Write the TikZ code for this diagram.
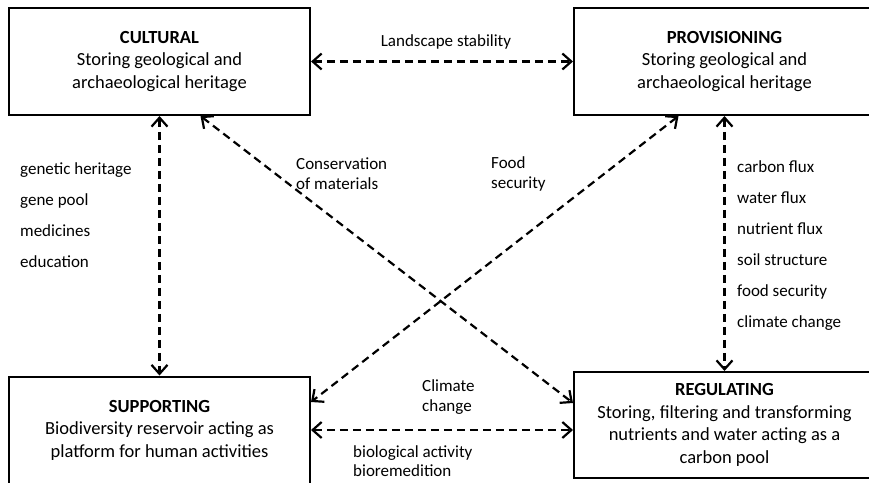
\documentclass[tikz,border=0pt]{standalone}
\usepackage{fontspec}
\setmainfont{Carlito}
\usetikzlibrary{arrows.meta, positioning, calc}

\begin{document}
\begin{tikzpicture}[
      x=1pt, y=-1pt,
      box/.style  = {draw, line width=2pt, align=center, inner sep=0pt,
                     minimum width=301pt, minimum height=107pt,
                     font=\fontsize{18.5}{22.5}\selectfont},
      lbl/.style  = {align=left, inner sep=0pt, anchor=west,
                     font=\fontsize{17}{20}\selectfont},
      lst/.style  = {lbl, font=\fontsize{17}{31}\selectfont},
      link/.style = {{Straight Barb[length=9pt,width=16pt]}-{Straight Barb[length=9pt,width=16pt]},
                     line width=2.2pt, dash pattern=on 8pt off 5pt}
    ]
    \useasboundingbox (0,0) rectangle (869,482);
    % the four services
    \node[box] (cult) at (159.5,61.5) {\textbf{CULTURAL}\\Storing geological and\\archaeological heritage};
    \node[box] (prov) at (724.5,61.5) {\textbf{PROVISIONING}\\Storing geological and\\archaeological heritage};
    \node[box] (supp) at (159.5,430)  {\textbf{SUPPORTING}\\Biodiversity reservoir acting as\\platform for human activities};
    \node[box, minimum height=106pt] (reg) at (724.5,425)
          {\textbf{REGULATING}\\Storing, filtering and transforming\\nutrients and water acting as a\\carbon pool};
    % links
    \draw[link] (cult.east)  -- (prov.west);
    \draw[link] (cult.south) -- (supp.north);
    \draw[link] (prov.south) -- (reg.north);
    \draw[link] ([xshift=41pt]cult.south)  -- ([yshift=22pt]reg.west);
    \draw[link] ([xshift=-46pt]prov.south) -- ([yshift=28pt]supp.east);
    \draw[link] (supp.east)  -- (supp.east -| reg.west);
    % labels
    \node[lbl, anchor=center] (land) at (446,42) {Landscape stability};
    \node[lbl] (cons) at (296,173.5) {Conservation\\of materials};
    \node[lbl] (food) at (491,173.5) {Food\\security};
    \node[lbl] (clim) at (422,397)   {Climate\\change};
    \node[lbl, font=\fontsize{17}{19}\selectfont] (bio) at (353,461) {biological activity\\bioremedition};
    \node[lst] (cultlist) at (20,215)    {genetic heritage\\gene pool\\medicines\\education};
    \node[lst] (provlist) at (737,245.5) {carbon flux\\water flux\\nutrient flux\\soil structure\\food security\\climate change};
  \end{tikzpicture}
\end{document}
